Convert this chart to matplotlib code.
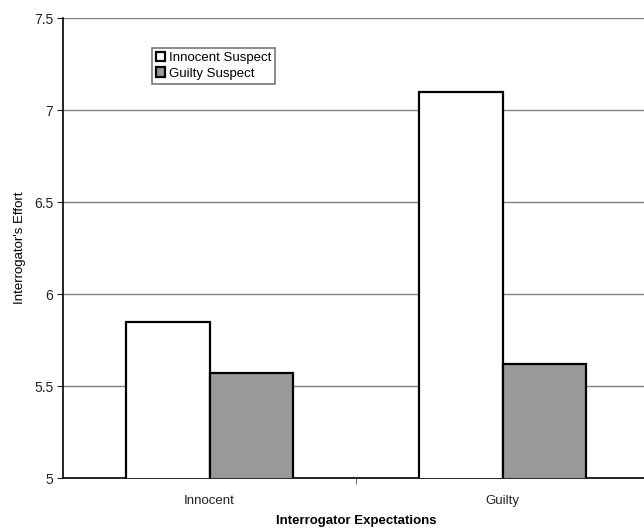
import matplotlib
matplotlib.use('Agg')
import matplotlib.pyplot as plt
import numpy as np

## data
categories = ['Innocent', 'Guilty']
innocent_suspect = [5.85, 7.10]
guilty_suspect = [5.57, 5.62]
series_labels = ['Innocent Suspect', 'Guilty Suspect']
yticks = [5, 5.5, 6, 6.5, 7, 7.5]

plt.rcParams['font.family'] = ['Liberation Sans', 'DejaVu Sans']

fig = plt.figure(figsize=(6.44, 5.31), dpi=100)
ax = fig.add_axes([63/644, 1-478/531, (649-63)/644, (478-18)/531])

x = np.arange(len(categories))
width = 1/3.5
ax.bar(x - width/2, innocent_suspect, width, color='white', edgecolor='black',
       linewidth=1.6, label=series_labels[0], zorder=3)
ax.bar(x + width/2, guilty_suspect, width, color='#999999', edgecolor='black',
       linewidth=1.6, label=series_labels[1], zorder=3)

ax.set_xlim(-0.5, len(categories) - 0.5)
ax.set_ylim(5, 7.5)
ax.set_yticks(yticks)
ax.set_yticklabels(['5', '5.5', '6', '6.5', '7', '7.5'])
ax.yaxis.grid(True, color='#808080', linewidth=1.0, zorder=0)
ax.set_axisbelow(True)

## category labels in the middle, tick marks on the boundaries
ax.set_xticks(x)
ax.set_xticklabels(categories)
ax.tick_params(axis='x', length=0, pad=12, labelsize=9.5, colors='#222222')
ax.set_xticks([0.5], minor=True)
ax.tick_params(axis='x', which='minor', length=4, color='#555555')
ax.tick_params(axis='y', length=4, labelsize=10, colors='#222222', pad=3)

for side in ('top', 'right'):
    ax.spines[side].set_visible(False)
ax.spines['left'].set_linewidth(1.2)
ax.spines['bottom'].set_linewidth(1.2)

ax.set_xlabel('Interrogator Expectations', fontsize=9.5, fontweight='bold',
              labelpad=6)
ax.set_ylabel("Interrogator's Effort", fontsize=9.5, labelpad=6)

leg = ax.legend(loc='upper left', bbox_to_anchor=(152/644, 1-48/531),
                bbox_transform=fig.transFigure, frameon=True, fancybox=False,
                fontsize=9.5, handlelength=0.7, handleheight=0.7,
                handletextpad=0.3, borderpad=0.3, labelspacing=0.25,
                borderaxespad=0)
leg.get_frame().set_edgecolor('#555555')
leg.get_frame().set_linewidth(1.2)

fig.savefig('out.png', dpi=100)
